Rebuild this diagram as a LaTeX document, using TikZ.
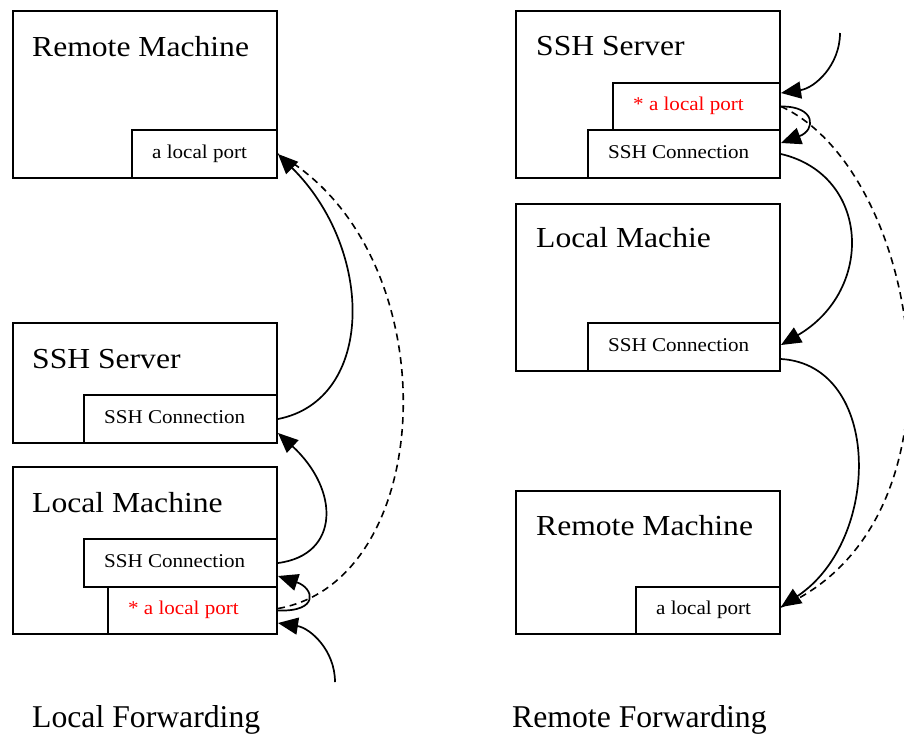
\documentclass[tikz,border=0pt]{standalone}
\usepackage{fontspec}
\setmainfont{Liberation Serif}
\usetikzlibrary{arrows.meta,calc}
% horizontally widened text
\newcommand{\wtext}[2]{\scalebox{#1}[1]{#2}}

\begin{document}
\begin{tikzpicture}[x=1pt,y=-1pt,
  box/.style={draw, line width=2pt, fill=white, rectangle, inner sep=0pt, anchor=north west},
  title/.style={anchor=base west, inner sep=0pt, font=\fontsize{29}{34}\selectfont},
  portlabel/.style={anchor=base west, inner sep=0pt, font=\fontsize{19.5}{23}\selectfont},
  caption/.style={anchor=base west, inner sep=0pt, font=\fontsize{31.7}{38}\selectfont},
  link/.style={line width=1.7pt, arrows={-Stealth[length=20pt,width=17pt,inset=0pt]}},
  fwd/.style={line width=1.6pt, dash pattern=on 7pt off 5pt},
]
\useasboundingbox (0,0) rectangle (904,734);
\clip (0,0) rectangle (904,734);

% ---------- local forwarding ----------
\node[box, minimum width=264pt, minimum height=167pt] (lremote) at (12,10) {};
\node[box, minimum width=145pt, minimum height=48pt] (lremoteport) at (131,129) {};
\node[title] (lremotet) at (32,56) {\wtext{1.09}{Remote Machine}};
\node[portlabel] (lremoteportt) at (152,158) {\wtext{1.08}{a local port}};

\node[box, minimum width=264pt, minimum height=120pt] (lserver) at (12,322) {};
\node[box, minimum width=193pt, minimum height=48pt] (lserverconn) at (83,394) {};
\node[title] (lservert) at (32,368) {\wtext{1.09}{SSH Server}};
\node[portlabel] (lserverconnt) at (104,423) {\wtext{1.08}{SSH Connection}};

\node[box, minimum width=264pt, minimum height=167pt] (llocal) at (12,466) {};
\node[box, minimum width=193pt, minimum height=48pt] (llocalconn) at (83,538) {};
\node[box, minimum width=169pt, minimum height=47pt] (llocalport) at (107,586) {};
\node[title] (llocalt) at (32,512) {\wtext{1.09}{Local Machine}};
\node[portlabel] (llocalconnt) at (104,567) {\wtext{1.08}{SSH Connection}};
\node[portlabel, text=red] (llocalportt) at (128,614) {\wtext{1.08}{* a local port}};

\coordinate (lin) at (335,682);

\draw[link] (lserverconn.east) .. controls (375,400) and (375,250) .. (lremoteport.east);
\draw[link] (llocalconn.east) .. controls (340,555) and (340,490) .. ($(lserverconn.east)+(0,14)$);
\draw[link] (llocalport.east) .. controls (320,612) and (314,588) .. ($(llocalconn.east)+(0,13)$);
\draw[link] (lin) .. controls (335,650) and (310,628) .. ($(llocalport.east)+(0,12.5)$);
\draw[fwd] ($(llocalport.east)+(0,-2)$) .. controls (440,580) and (450,250) .. (lremoteport.east);

\node[caption] (lcap) at (32,727) {Local Forwarding};

% ---------- remote forwarding ----------
\node[box, minimum width=264pt, minimum height=167pt] (rserver) at (515,10) {};
\node[box, minimum width=167pt, minimum height=47pt] (rserverport) at (612,82) {};
\node[box, minimum width=192pt, minimum height=48pt] (rserverconn) at (587,129) {};
\node[title] (rservert) at (536,55) {\wtext{1.09}{SSH Server}};
\node[portlabel, text=red] (rserverportt) at (633,110) {\wtext{1.08}{* a local port}};
\node[portlabel] (rserverconnt) at (608,158) {\wtext{1.08}{SSH Connection}};

\node[box, minimum width=264pt, minimum height=167pt] (rlocal) at (515,203) {};
\node[box, minimum width=192pt, minimum height=48pt] (rlocalconn) at (587,322) {};
\node[title] (rlocalt) at (536,247) {\wtext{1.09}{Local Machie}};
\node[portlabel] (rlocalconnt) at (608,351) {\wtext{1.08}{SSH Connection}};

\node[box, minimum width=264pt, minimum height=143pt] (rremote) at (515,490) {};
\node[box, minimum width=144pt, minimum height=47pt] (rremoteport) at (635,586) {};
\node[title] (rremotet) at (536,535) {\wtext{1.09}{Remote Machine}};
\node[portlabel] (rremoteportt) at (656,614) {\wtext{1.08}{a local port}};

\coordinate (rin) at (840,33);

\draw[link] (rin) .. controls (840,65) and (815,88) .. ($(rserverport.east)+(0,-13.5)$);
\draw[link] (rserverport.east) .. controls (816,106) and (816,130) .. ($(rserverconn.east)+(0,-11)$);
\draw[link] (rserverconn.east) .. controls (870,175) and (875,290) .. ($(rlocalconn.east)+(0,-2)$);
\draw[link] ($(rlocalconn.east)+(0,12)$) .. controls (882,365) and (882,540) .. ($(rremoteport.east)+(0,-3.5)$);
\draw[fwd] (rserverport.east) .. controls (920,170) and (980,520) .. ($(rremoteport.east)+(0,-3.5)$);

\node[caption] (rcap) at (512,727) {Remote Forwarding};
\end{tikzpicture}
\end{document}
